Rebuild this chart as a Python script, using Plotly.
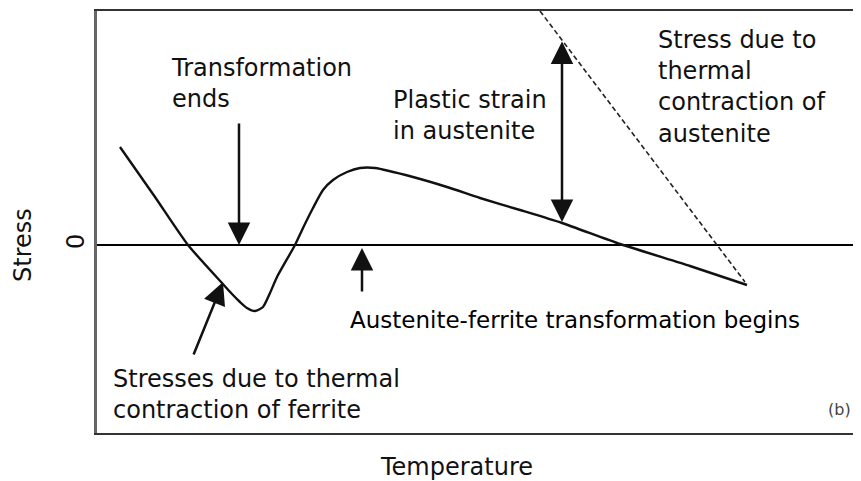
import plotly.graph_objects as go

# curve (temperature axis left->right, stress above/below zero)
temperature = [23, 58, 91, 125, 135, 143, 150, 158, 166, 173, 180, 198, 206,
               216, 226, 236, 250, 263, 278, 316, 350, 383, 423, 465, 523, 593, 650]
stress = [98, 48, 0, -38, -49, -57, -63, -66, -62, -48, -32, 0, 17,
          37, 55, 65, 73, 77, 77, 68, 58, 47, 35, 22, 1, -21, -40]

# thermal contraction of austenite (dashed)
aust_temp = [443, 648]
aust_stress = [234, -37]

# arrows: (head x, head y, tail x, tail y)
arrow_transf_end = (142, 0, 142, 123)
arrow_transf_begin = (265, -3, 265, -48)
arrow_ferrite = (126, -37, 96, -111)
plastic_range = (465, 23, 465, 205)

font = "DejaVu Sans"
ink = "#111111"

fig = go.Figure()
fig.add_trace(go.Scatter(x=temperature, y=stress, mode="lines",
                         line=dict(color=ink, width=2.4, shape="spline", smoothing=0.6),
                         hoverinfo="skip"))
fig.add_trace(go.Scatter(x=aust_temp, y=aust_stress, mode="lines",
                         line=dict(color="#222222", width=1.6, dash="5px,3px"),
                         hoverinfo="skip"))

def arrow(a, both=False):
    hx, hy, tx, ty = a
    fig.add_annotation(x=hx, y=hy, ax=tx, ay=ty, xref="x", yref="y", axref="x", ayref="y",
                       text="", showarrow=True, arrowhead=2, arrowsize=1.8, arrowwidth=2.5,
                       arrowcolor=ink, arrowside="end+start" if both else "end",
                       startarrowhead=2, startarrowsize=1.8)

arrow(arrow_transf_end)
arrow(arrow_transf_begin)
arrow(arrow_ferrite)
arrow(plastic_range, both=True)

def label(txt, x, y, size=24, xanchor="left", yanchor="top", color=ink):
    fig.add_annotation(x=x, y=y, xref="x", yref="y", text=txt, showarrow=False,
                       xanchor=xanchor, yanchor=yanchor, align="left",
                       font=dict(family=font, size=size, color=color))

label("Transformation<br>ends", 72, 193)
label("Plastic strain<br>in austenite", 294, 161)
label("Stress due to<br>thermal<br>contraction of<br>austenite", 559, 221)
label("Stresses due to thermal<br>contraction of ferrite", 14, -118)
label("Austenite-ferrite transformation begins", 251, -60, size=23, color="black")
label("(b)", 742, -164, size=16, xanchor="center", yanchor="middle", color="#444444")

# axis titles
fig.add_annotation(x=0.471, y=-0.043, xref="paper", yref="paper", text="Temperature",
                   showarrow=False, xanchor="center", yanchor="top",
                   font=dict(family=font, size=24, color=ink))
fig.add_annotation(x=-0.097, y=0, xref="paper", yref="y", text="Stress", textangle=-90,
                   showarrow=False, xanchor="center", yanchor="middle",
                   font=dict(family=font, size=24, color=ink))

fig.update_xaxes(range=[0, 764], showgrid=False, zeroline=False, showticklabels=False,
                 showline=True, mirror=True, linecolor="#333333", linewidth=2)
fig.update_yaxes(range=[-188, 234], showgrid=False, zeroline=True, zerolinecolor="black",
                 zerolinewidth=2, tickvals=[0], ticktext=["0"], tickangle=-90,
                 tickfont=dict(family=font, size=24, color=ink), ticks="",
                 showline=True, linecolor="#666666", linewidth=3)

# the page body adds an 8px margin, so the figure is 8px smaller on each side
fig.update_layout(width=853, height=473, margin=dict(l=89, r=0, t=3, b=48),
                  plot_bgcolor="white", paper_bgcolor="white", showlegend=False)

fig.write_html("out.html")
